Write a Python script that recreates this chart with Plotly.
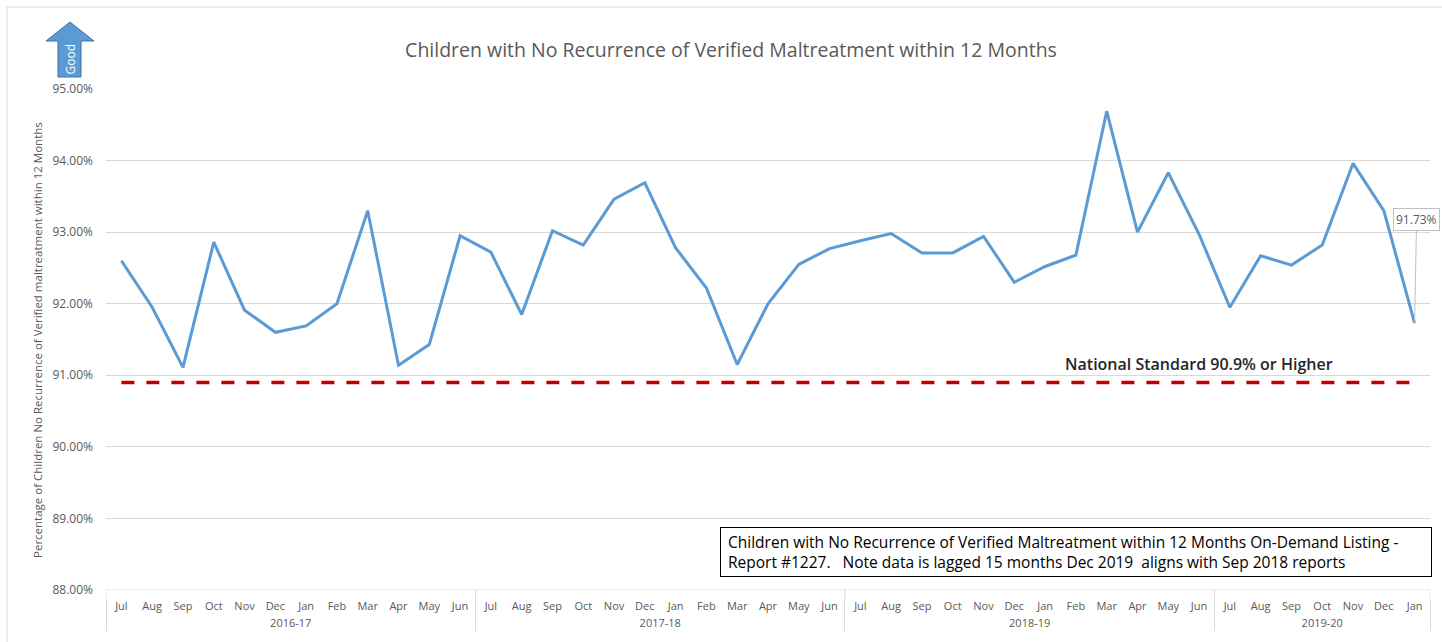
import plotly.graph_objects as go

# ---- data ----
fiscal_years = ["2016-17", "2017-18", "2018-19", "2019-20"]
months_2016_17 = ["Jul", "Aug", "Sep", "Oct", "Nov", "Dec", "Jan", "Feb", "Mar", "Apr", "May", "Jun"]
months_2017_18 = ["Jul", "Aug", "Sep", "Oct", "Nov", "Dec", "Jan", "Feb", "Mar", "Apr", "May", "Jun"]
months_2018_19 = ["Jul", "Aug", "Sep", "Oct", "Nov", "Dec", "Jan", "Feb", "Mar", "Apr", "May", "Jun"]
months_2019_20 = ["Jul", "Aug", "Sep", "Oct", "Nov", "Dec", "Jan"]

rate_2016_17 = [92.60, 91.95, 91.11, 92.86, 91.91, 91.60, 91.69, 92.00, 93.30, 91.14, 91.43, 92.95]
rate_2017_18 = [92.72, 91.85, 93.02, 92.82, 93.46, 93.69, 92.78, 92.22, 91.15, 92.00, 92.55, 92.77]
rate_2018_19 = [92.88, 92.98, 92.71, 92.71, 92.94, 92.30, 92.52, 92.68, 94.69, 93.00, 93.83, 92.97]
rate_2019_20 = [91.95, 92.67, 92.54, 92.82, 93.96, 93.30, 91.73]

national_standard_value = 90.9

y_ticks = [88, 89, 90, 91, 92, 93, 94, 95]

title_text = "Children with No Recurrence of Verified Maltreatment within 12 Months"
y_title = "Percentage of Children No Recurrence of Verified maltreatment within 12 Months"
standard_text = "National Standard 90.9% or Higher"
note_line1 = "Children with No Recurrence of Verified Maltreatment within 12 Months On-Demand Listing -"
note_line2 = "Report #1227.&nbsp;&nbsp; Note data is lagged 15 months Dec 2019&nbsp; aligns with Sep 2018 reports"

# ---- build ----
month_groups = [months_2016_17, months_2017_18, months_2018_19, months_2019_20]
year_labels, month_labels = [], []
for fy, ms in zip(fiscal_years, month_groups):
    year_labels += [fy] * len(ms)
    month_labels += ms
rates = rate_2016_17 + rate_2017_18 + rate_2018_19 + rate_2019_20
standard = [national_standard_value] * len(rates)

W, H = 1442, 642
L, R, T, B = 106, 12, 89, 44
PW, PH = W - L - R, H - T - B
Y_BOTTOM = 590  # pixel row of the 88% line


def px(x):
    return (x - L) / PW


def py(y):
    return (H - B - y) / PH


FONT = "Open Sans"
GRAY = "#595959"
GRID = "#D9D9D9"

fig = go.Figure()
fig.add_trace(go.Scatter(
    x=[year_labels, month_labels], y=standard, mode="lines",
    line=dict(color="#C00000", width=3.5, dash="13px,12px"),
    hoverinfo="skip", showlegend=False))
fig.add_trace(go.Scatter(
    x=[year_labels, month_labels], y=rates, mode="lines",
    line=dict(color="#5B9BD5", width=3), showlegend=False))

# data label callout on last point
fig.add_annotation(
    x=len(rates) - 1, y=rates[-1], xref="x", yref="y",
    text=f"{rates[-1]:.2f}%", showarrow=True, arrowhead=0, arrowwidth=1,
    arrowcolor="#BFBFBF", ax=2, ay=-104, bordercolor="#BFBFBF", borderwidth=1,
    borderpad=2, bgcolor="white", font=dict(family=FONT, size=12, color=GRAY))

# National standard label
fig.add_annotation(
    x=35, y=91.16, xref="x", yref="y", text=standard_text, showarrow=False,
    font=dict(family=FONT, size=16, color="#262626", weight=600), yanchor="middle")

# Note box
fig.add_annotation(
    x=px(720), y=py(527), xref="paper", yref="paper", xanchor="left", yanchor="top",
    text="&nbsp;" + note_line1 + "<br>&nbsp;" + note_line2, showarrow=False, align="left",
    width=704, borderpad=3, bordercolor="black", borderwidth=1, bgcolor="white",
    font=dict(family=FONT, size=15.5, color="black"))

# Y-axis title
fig.add_annotation(x=px(37), y=py(340), xref="paper", yref="paper", text=y_title,
                   textangle=-90, showarrow=False, xanchor="center", yanchor="middle",
                   font=dict(family=FONT, size=11.5, color=GRAY))

# "Good" arrow
arrow_pts = [(70, 22), (94, 41), (81, 41), (81, 77), (58, 77), (58, 41), (46, 41)]
path = "M " + " L ".join(f"{px(a):.5f},{py(b):.5f}" for a, b in arrow_pts) + " Z"
fig.add_shape(type="path", path=path, xref="paper", yref="paper",
              fillcolor="#5B9BD5", line=dict(color="#41719C", width=1), layer="above")
fig.add_annotation(x=px(69.5), y=py(59), xref="paper", yref="paper", text="Good",
                   textangle=-90, showarrow=False, xanchor="center", yanchor="middle",
                   font=dict(family=FONT, size=12, color="white"))

# outer border
fig.add_shape(type="rect", xref="paper", yref="paper", x0=px(7), y0=py(7),
              x1=px(W + 20), y1=py(H + 20), line=dict(color=GRID, width=1),
              fillcolor="rgba(0,0,0,0)", layer="below")

# category-axis box: top line at the 88% level, dividers joined up to it
fig.add_shape(type="line", xref="paper", yref="y", x0=0, x1=1,
              y0=y_ticks[0], y1=y_ticks[0], line=dict(color=GRID, width=1), layer="below")
boundaries = [-0.5]
acc = -0.5
for ms in month_groups:
    acc += len(ms)
    boundaries.append(acc)
for bx in boundaries:
    fig.add_shape(type="line", xref="x", yref="paper", x0=bx, x1=bx,
                  y0=py(Y_BOTTOM), y1=0, line=dict(color=GRID, width=1))

fig.update_layout(
    width=W, height=H, margin=dict(l=L, r=R, t=T, b=B, autoexpand=False),
    paper_bgcolor="white", plot_bgcolor="white",
    title=dict(text=title_text, x=731 / W, xanchor="center", y=1 - 50 / H,
               yanchor="middle", font=dict(family=FONT, size=19.5, color=GRAY)),
    font=dict(family=FONT, color=GRAY),
)
fig.update_xaxes(
    type="multicategory", range=[-0.5, len(rates) - 0.5], automargin=False,
    anchor="free", position=0, showline=False,
    showdividers=True, dividercolor=GRID, dividerwidth=1,
    tickfont=dict(family=FONT, size=11, color=GRAY), tickangle=0,
    ticks="", showgrid=False)
fig.update_yaxes(
    range=[88, 95], domain=[py(Y_BOTTOM), 1], tickvals=y_ticks,
    ticktext=[f"{v:.2f}%" for v in y_ticks], automargin=False,
    showgrid=True, gridcolor=GRID, gridwidth=1, zeroline=False, showline=False,
    tickfont=dict(family=FONT, size=12, color=GRAY), ticklabelstandoff=12)

fig.write_html("out.html", config={"displayModeBar": False},
               post_script="document.body.style.margin='0px';")
